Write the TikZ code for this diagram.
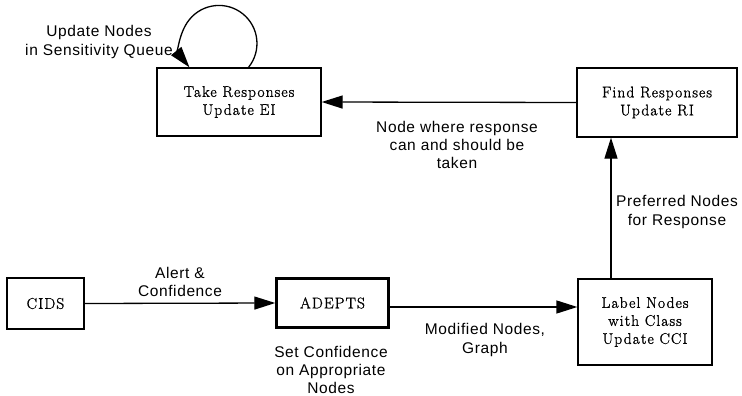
\documentclass[tikz,border=0pt]{standalone}
\usepackage{fontspec}
\setmainfont{Latin Modern Roman}[LetterSpace=7,FakeBold=1.2]
\newfontfamily\lblfont{Liberation Sans}[LetterSpace=4]
\usetikzlibrary{arrows.meta}
\begin{document}
\begin{tikzpicture}[x=1pt,y=-1pt,
  box/.style={draw=black,line width=1.3pt,align=center,inner sep=0pt,
    font=\fontsize{15.5}{18}\selectfont},
  thickbox/.style={box,line width=2.4pt},
  lbl/.style={align=center,inner sep=0pt,font=\lblfont\fontsize{15.5}{18.2}\selectfont},
  arr/.style={line width=1.3pt,-{Triangle[length=21pt,width=13pt]}}]
\useasboundingbox (0,0) rectangle (742,396);
\node[box,minimum width=164pt,minimum height=68pt] (take) at (239,102) {Take Responses\\Update EI};
\node[box,minimum width=160pt,minimum height=69pt] (find) at (657,102.5) {Find Responses\\Update RI};
\node[box,minimum width=77pt,minimum height=51pt] (cids) at (45.5,303.5) {CIDS};
\node[thickbox,minimum width=112pt,minimum height=49pt] (adepts) at (332.5,303) {ADEPTS};
\node[box,minimum width=134pt,minimum height=86pt] (label) at (645,322) {Label Nodes\\with Class\\Update CCI};
\node[lbl] (updl) at (99,42) {Update Nodes\\in Sensitivity Queue};
\node[lbl] (alert) at (180,282) {Alert \&\\Confidence};
\node[lbl] (setc) at (331,370) {Set Confidence\\on Appropriate\\Nodes};
\node[lbl] (modn) at (485,340) {Modified Nodes,\\Graph};
\node[lbl] (nodew) at (457,145) {Node where response\\can and should be\\taken};
\node[lbl] (pref) at (677,212) {Preferred Nodes\\for Response};
\draw[arr] ([xshift=9.5pt]take.north) arc[start angle=39,end angle=-219,radius=38];
\draw[arr] (find.west) -- (take.east);
\draw[arr] (cids.east) -- (adepts.west);
\draw[arr] ([yshift=-4pt]adepts.east) -- ([yshift=-4pt]adepts.east -| label.west);
\draw[arr] ([xshift=-34pt]label.north) -- ([xshift=-34pt]label.north |- find.south);
\end{tikzpicture}
\end{document}
